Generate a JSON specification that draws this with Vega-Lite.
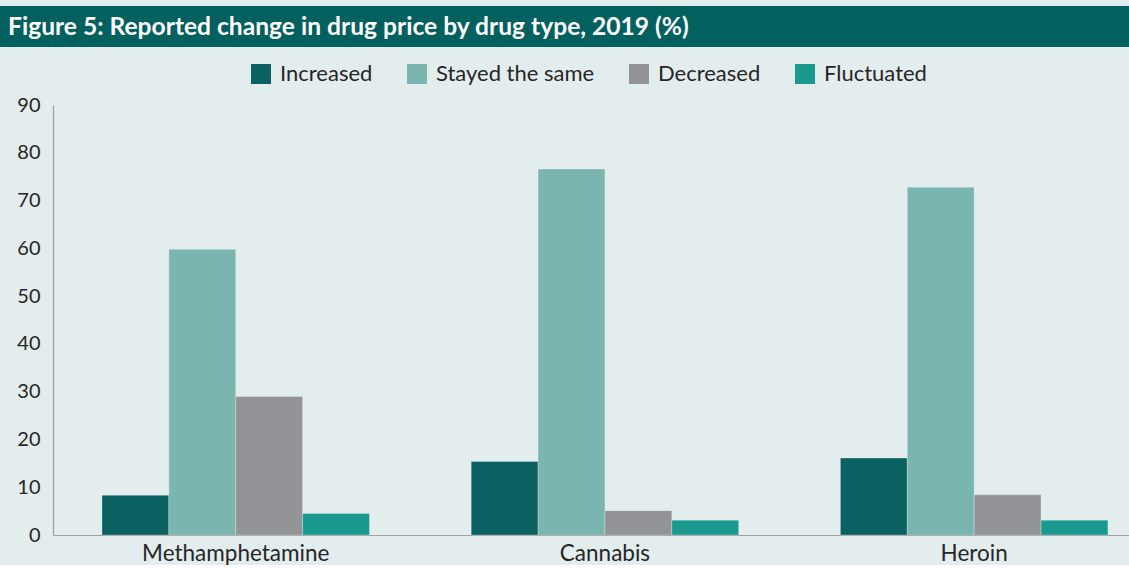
{
  "$schema": "https://vega.github.io/schema/vega-lite/v6.json",
  "background": "#e3eded",
  "padding": {"left": 0, "top": 6, "right": 0, "bottom": 0},
  "spacing": 48,
  "config": {"view": {"stroke": null}, "font": "Lato"},
  "vconcat": [
    {
      "width": 1129,
      "height": 41,
      "view": {"fill": "#02605f", "stroke": null},
      "data": {"values": [{"title": "Figure 5: Reported change in drug price by drug type, 2019 (%)"}]},
      "mark": {"type": "text", "align": "left", "baseline": "alphabetic", "font": "Lato", "fontWeight": "bold", "fontSize": 24.6, "color": "#ffffff"},
      "encoding": {"text": {"field": "title"}, "x": {"value": 8}, "y": {"value": 29}}
    },
    {
      "width": 1129,
      "height": 430,
      "data": {"values": [
        {"drug": "Methamphetamine", "change": "Increased", "pct": 8.3},
        {"drug": "Methamphetamine", "change": "Stayed the same", "pct": 59.8},
        {"drug": "Methamphetamine", "change": "Decreased", "pct": 29.0},
        {"drug": "Methamphetamine", "change": "Fluctuated", "pct": 4.5},
        {"drug": "Cannabis", "change": "Increased", "pct": 15.4},
        {"drug": "Cannabis", "change": "Stayed the same", "pct": 76.6},
        {"drug": "Cannabis", "change": "Decreased", "pct": 5.1},
        {"drug": "Cannabis", "change": "Fluctuated", "pct": 3.1},
        {"drug": "Heroin", "change": "Increased", "pct": 16.1},
        {"drug": "Heroin", "change": "Stayed the same", "pct": 72.8},
        {"drug": "Heroin", "change": "Decreased", "pct": 8.4},
        {"drug": "Heroin", "change": "Fluctuated", "pct": 3.1}
      ]},
      "mark": {"type": "bar", "stroke": "#ffffff", "strokeOpacity": 0.35, "strokeWidth": 0.8},
      "encoding": {
        "x": {
          "field": "drug", "type": "nominal",
          "sort": ["Methamphetamine", "Cannabis", "Heroin"],
          "scale": {"range": [53, 1129], "paddingInner": 0.2755, "paddingOuter": 0.0949, "align": 0.699},
          "axis": {"title": null, "labelAngle": 0, "ticks": false, "tickSize": 0, "labelPadding": 7, "labelFontSize": 22.5, "labelLimit": 500, "labelColor": "#262626", "labelFont": "Lato", "domainColor": "#a0a0a0", "domainWidth": 1.2}
        },
        "xOffset": {
          "field": "change", "type": "nominal",
          "sort": ["Increased", "Stayed the same", "Decreased", "Fluctuated"],
          "scale": {"paddingInner": 0, "paddingOuter": 0}
        },
        "y": {
          "field": "pct", "type": "quantitative",
          "scale": {"domain": [0, 90], "nice": false},
          "axis": {"title": null, "offset": -53, "values": [0, 10, 20, 30, 40, 50, 60, 70, 80, 90], "grid": false, "ticks": false, "tickSize": 0, "labelPadding": 13, "labelFontSize": 20, "labelColor": "#262626", "labelFont": "Lato", "domainColor": "#a0a0a0", "domainWidth": 1.2}
        },
        "color": {
          "field": "change", "type": "nominal",
          "sort": ["Increased", "Stayed the same", "Decreased", "Fluctuated"],
          "scale": {"domain": ["Increased", "Stayed the same", "Decreased", "Fluctuated"], "range": ["#0b6061", "#7ab5b0", "#939497", "#1a998f"]},
          "legend": {"title": null, "orient": "none", "direction": "horizontal", "legendX": 250, "legendY": 57, "symbolType": "square", "symbolSize": 400, "symbolStrokeWidth": 0, "labelFontSize": 22, "labelLimit": 500, "labelFont": "Lato", "labelColor": "#262626", "labelOffset": 8, "columnPadding": 33}
        }
      }
    }
  ]
}
